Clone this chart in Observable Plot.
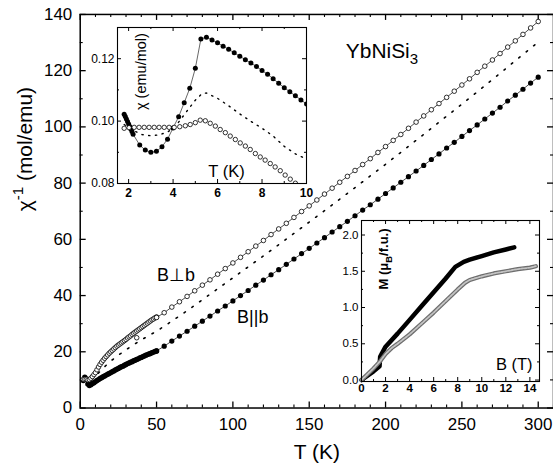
<!DOCTYPE html>
<html>
<head>
<meta charset="utf-8">
<script src="https://cdn.jsdelivr.net/npm/d3@7"></script>
<script src="https://cdn.jsdelivr.net/npm/@observablehq/plot@0.6"></script>
<style>
  html, body { margin: 0; padding: 0; background: #fff; }
  #wrap { position: relative; width: 553px; height: 474px; overflow: hidden; background: #fff; }
  #wrap svg { position: absolute; overflow: visible; }
</style>
</head>
<body>
<div id="wrap"></div>
<script>
// ---------------- data: main panel (inverse susceptibility) ----------------
const tLow = [2,3,4,5,6,7,8,9,10,11,12,13,14,15,16,17,18,19,20,21,22,23,24,25,26,27,28,29,30,31,32,33,34,35,36,37,38,39,40,41,42,43,44,45,46,47,48,49,50];
const invPerpLow = [10.2,10.2,10.2,10.0,10.1,10.6,11.2,11.9,12.6,13.6,14.6,15.5,16.3,17.0,17.7,18.3,18.9,19.5,20.0,20.5,21.0,21.5,22.0,22.4,22.8,23.2,23.6,24.0,24.4,24.9,25.3,25.7,26.2,26.6,27.0,27.4,27.8,28.2,28.6,29.0,29.4,29.8,30.2,30.6,31.0,31.4,31.7,32.1,32.4];
const invParLow = [9.8,11.0,10.3,8.5,8.0,8.3,8.7,9.0,9.4,9.8,10.1,10.5,10.8,11.1,11.4,11.7,12.0,12.3,12.6,12.9,13.2,13.5,13.8,14.1,14.4,14.7,14.9,15.2,15.5,15.8,16.0,16.3,16.5,16.8,17.0,17.3,17.5,17.8,18.0,18.3,18.5,18.8,19.0,19.2,19.4,19.7,19.9,20.1,20.3];
const tPerpExtra = [37];
const invPerpExtra = [25.0];

const tHigh = [50,55,60,65,70,75,80,85,90,95,100,105,110,115,120,125,130,135,140,145,150,155,160,165,170,175,180,185,190,195,200,205,210,215,220,225,230,235,240,245,250,255,260,265,270,275,280,285,290,295,300];
const invPerpHigh = [32.2,33.9,35.9,37.8,39.7,41.7,43.7,45.6,47.6,49.6,51.6,53.6,55.6,57.6,59.6,61.7,63.7,65.7,67.8,69.9,71.9,74.0,76.1,78.2,80.3,82.4,84.5,86.6,88.7,90.9,93.0,95.2,97.3,99.5,101.7,103.9,106.1,108.3,110.5,112.7,114.9,117.1,119.4,121.6,123.8,126.1,128.4,130.6,132.9,135.2,137.5];
const invParHigh = [20.3,22.0,23.8,25.6,27.3,29.1,30.9,32.7,34.5,36.3,38.1,40.0,41.8,43.7,45.5,47.4,49.2,51.1,53.0,54.9,56.8,58.7,60.6,62.6,64.5,66.4,68.4,70.4,72.3,74.3,76.3,78.3,80.3,82.3,84.3,86.3,88.4,90.4,92.5,94.5,96.6,98.7,100.7,102.8,104.9,107.0,109.2,111.3,113.4,115.6,117.7];

const tAvg = [2,4,6,8,10,15,20,25,30,35,40,45,50,60,70,80,90,100,120,140,160,180,200,220,240,260,280,300];
const invAvg = [10.1,10.2,9.4,10.3,11.3,14.2,16.7,18.8,20.7,22.5,24.2,25.8,27.3,30.9,34.6,38.5,42.4,46.3,54.1,62.1,70.2,78.4,86.7,95.2,103.8,112.4,121.3,130.2];

const mainXTicks = [0,50,100,150,200,250,300];
const mainXMinor = [10,20,30,40,60,70,80,90,110,120,130,140,160,170,180,190,210,220,230,240,260,270,280,290,310];
const mainYTicks = [0,20,40,60,80,100,120,140];
const mainYMinor = [10,30,50,70,90,110,130];

// ---------------- data: inset 1 (chi vs T, low T) ----------------
const tChiPar = [1.8,1.85,1.9,1.95,2.0,2.05,2.1,2.15,2.2,2.5,2.75,3.0,3.25,3.5,3.75,4.0,4.25,4.5,4.75,5.0,5.25,5.5,5.75,6.0,6.25,6.5,6.75,7.0,7.25,7.5,7.75,8.0,8.25,8.5,8.75,9.0,9.25,9.5,9.75,10.0];
const chiPar = [0.1022,0.1015,0.1007,0.0999,0.0991,0.0983,0.0975,0.0967,0.0958,0.0923,0.0907,0.0900,0.0903,0.0918,0.0942,0.0978,0.1014,0.1059,0.1105,0.1169,0.1263,0.1269,0.1260,0.1251,0.1240,0.1230,0.1219,0.1208,0.1197,0.1186,0.1175,0.1162,0.1150,0.1136,0.1121,0.1107,0.1094,0.1081,0.1068,0.1055];
const tChiPerp = [1.8,2.02,2.25,2.47,2.7,2.92,3.15,3.37,3.6,3.82,4.05,4.3,4.55,4.77,5.0,5.22,5.45,5.67,5.9,6.12,6.35,6.57,6.8,7.02,7.25,7.47,7.7,7.92,8.14,8.37,8.59,8.82,9.04,9.27,9.5];
const chiPerp = [0.0977,0.0979,0.0980,0.0980,0.0980,0.0980,0.0980,0.0980,0.0980,0.0980,0.0980,0.0982,0.0985,0.0989,0.0995,0.1003,0.1001,0.0993,0.0984,0.0973,0.0963,0.0952,0.0941,0.0930,0.0920,0.0909,0.0896,0.0885,0.0875,0.0864,0.0853,0.0841,0.0827,0.0814,0.0801];
const tChiAvg = [1.8,2.2,2.6,3.0,3.4,3.8,4.2,4.6,5.0,5.3,5.5,6.0,6.5,7.0,7.5,8.0,8.5,9.0,9.5,10.0];
const chiAvg = [0.0989,0.0970,0.0957,0.0953,0.0956,0.0967,0.0992,0.1030,0.1067,0.1088,0.1090,0.1073,0.1049,0.1023,0.0999,0.0977,0.0952,0.0919,0.0895,0.0878];
const in1XTicks = [2,4,6,8,10];
const in1XMinor = [3,5,7,9];
const in1YTicks = [0.08,0.10,0.12];
const in1YMinor = [0.09,0.11,0.13];

// ---------------- data: inset 2 (M vs B) ----------------
const bPar = [0,0.5,1,1.5,1.55,1.7,2,3,4,5,6,7,7.8,8.5,9,10,11,12,12.7];
const mPar = [0,0.06,0.12,0.19,0.32,0.37,0.46,0.64,0.83,1.02,1.21,1.40,1.56,1.63,1.66,1.71,1.76,1.80,1.83];
const bPerp = [0,0.5,1,1.5,2,2.5,3,4,5,6,7,8,8.6,9,10,11,12,13,14,14.5];
const mPerp = [0,0.08,0.16,0.25,0.36,0.44,0.50,0.63,0.78,0.93,1.09,1.25,1.34,1.38,1.43,1.47,1.50,1.53,1.55,1.57];
const in2XTicks = [0,2,4,6,8,10,12,14];
const in2XMinor = [1,3,5,7,9,11,13];
const in2YTicks = [0,0.5,1.0,1.5,2.0];
const in2YMinor = [0.25,0.75,1.25,1.75];

// ---------------- helpers ----------------
const FONT = "'Liberation Sans', Arial, Helvetica, sans-serif";
const rows = (xs, ys) => xs.map((x, i) => ({x, y: ys[i]}));

function frameTicks(xs, ys, len, fh, fw, sw) {
  return [
    Plot.tickX(xs, {x: d => d, insetTop: fh - len, stroke: "black", strokeWidth: sw}),
    Plot.tickX(xs, {x: d => d, insetBottom: fh - len, stroke: "black", strokeWidth: sw}),
    Plot.tickY(ys, {y: d => d, insetRight: fw - len, stroke: "black", strokeWidth: sw}),
    Plot.tickY(ys, {y: d => d, insetLeft: fw - len, stroke: "black", strokeWidth: sw})
  ];
}

function richText(svg, full, pieces) {
  svg.querySelectorAll("text").forEach(el => {
    if (el.textContent !== full) return;
    const target = el.querySelector("tspan") || el;
    target.textContent = "";
    pieces.forEach(([s, kind]) => {
      const ts = document.createElementNS("http://www.w3.org/2000/svg", "tspan");
      ts.textContent = s;
      if (kind === "sub") { ts.setAttribute("dy", "0.45em"); ts.setAttribute("font-size", "0.72em"); }
      if (kind === "sup") { ts.setAttribute("dy", "-0.6em"); ts.setAttribute("font-size", "0.72em"); }
      if (kind === "unsub") ts.setAttribute("dy", "-0.32em");
      if (kind === "unsup") ts.setAttribute("dy", "0.43em");
      target.appendChild(ts);
    });
  });
}

const wrap = document.getElementById("wrap");

// ---------------- main panel ----------------
const mW = 555, mH = 474, mL = 80, mR = 0, mT = 14, mB = 65;
const mFW = mW - mL - mR, mFH = mH - mT - mB;

const main = Plot.plot({
  width: mW, height: mH,
  marginLeft: mL, marginRight: mR, marginTop: mT, marginBottom: mB,
  x: {domain: [0, 310]},
  y: {domain: [0, 140]},
  style: {fontFamily: FONT, fontSize: "17px", background: "transparent", color: "black"},
  marks: [
    ...frameTicks(mainXTicks, mainYTicks, 6, mFH, mFW, 1.3),
    ...frameTicks(mainXMinor, mainYMinor, 3, mFH, mFW, 1.1),
    Plot.frame({stroke: "black", strokeWidth: 1.5}),
    Plot.axisX(mainXTicks, {tickSize: 0, tickPadding: 10, fontSize: 17, label: null}),
    Plot.axisY(mainYTicks, {tickSize: 0, tickPadding: 8, fontSize: 17, label: null}),
    Plot.line(rows(tAvg, invAvg), {x: "x", y: "y", stroke: "black", strokeWidth: 1.6, strokeDasharray: "1.6,8"}),
    Plot.line(rows(tHigh, invPerpHigh), {x: "x", y: "y", stroke: "black", strokeWidth: 0.7}),
    Plot.line(rows(tHigh, invParHigh), {x: "x", y: "y", stroke: "black", strokeWidth: 0.7}),
    Plot.dot(rows(tLow, invParLow), {x: "x", y: "y", r: 2.7, fill: "black", stroke: "none"}),
    Plot.dot(rows(tHigh, invParHigh), {x: "x", y: "y", r: 2.6, fill: "black", stroke: "none"}),
    Plot.dot(rows(tLow, invPerpLow), {x: "x", y: "y", r: 2.3, fill: "white", stroke: "black", strokeWidth: 0.8}),
    Plot.dot(rows(tPerpExtra, invPerpExtra), {x: "x", y: "y", r: 2.3, fill: "white", stroke: "black", strokeWidth: 0.8}),
    Plot.dot(rows(tHigh, invPerpHigh), {x: "x", y: "y", r: 2.3, fill: "white", stroke: "black", strokeWidth: 0.8}),
    Plot.text(["T (K)"], {frameAnchor: "bottom", dy: 51, fontSize: 21, fill: "black"}),
    Plot.text(["χ-1 (mol/emu)"], {frameAnchor: "left", rotate: -90, dx: -55, fontSize: 21, fill: "black"}),
    Plot.text(["YbNiSi3"], {x: 174, y: 127, textAnchor: "start", fontSize: 21, fill: "black"}),
    Plot.text(["B⊥b"], {x: 62.7, y: 47.4, fontSize: 18, fill: "black"}),
    Plot.text(["B||b"], {x: 113, y: 32.2, fontSize: 18, fill: "black"})
  ]
});
main.style.left = "0px"; main.style.top = "0px";
richText(main, "YbNiSi3", [["YbNiSi"], ["3", "sub"]]);
richText(main, "χ-1 (mol/emu)", [["χ"], ["-1", "sup"], [" (mol/emu)", "unsup"]]);
wrap.appendChild(main);

// ---------------- inset 1: chi vs T ----------------
const i1Left = 80, i1Top = 20, i1W = 234, i1H = 185;
const i1L = 37, i1R = 8, i1T = 7, i1B = 22;
const i1FW = i1W - i1L - i1R, i1FH = i1H - i1T - i1B;
const inset1 = Plot.plot({
  width: i1W, height: i1H,
  marginLeft: i1L, marginRight: i1R, marginTop: i1T, marginBottom: i1B,
  x: {domain: [1.5, 10]},
  y: {domain: [0.08, 0.13]},
  style: {fontFamily: FONT, fontSize: "12px", background: "transparent", color: "black"},
  marks: [
    Plot.frame({fill: "white", stroke: "none"}),
    ...frameTicks(in1XTicks, in1YTicks, 4, i1FH, i1FW, 1),
    ...frameTicks(in1XMinor, in1YMinor, 2, i1FH, i1FW, 1),
    Plot.axisX(in1XTicks, {tickSize: 0, tickPadding: 5, fontSize: 12, fontWeight: "bold", label: null, tickFormat: d => String(d)}),
    Plot.axisY(in1YTicks, {tickSize: 0, tickPadding: 3, fontSize: 12, label: null, tickFormat: d => d.toFixed(2)}),
    Plot.line(rows(tChiAvg, chiAvg), {x: "x", y: "y", stroke: "black", strokeWidth: 1.4, strokeDasharray: "1.3,5.5", clip: true}),
    Plot.line(rows(tChiPar, chiPar), {x: "x", y: "y", stroke: "black", strokeWidth: 0.6, clip: true}),
    Plot.dot(rows(tChiPar, chiPar), {x: "x", y: "y", r: 2.5, fill: "black", stroke: "none", clip: true}),
    Plot.dot(rows(tChiPerp, chiPerp), {x: "x", y: "y", r: 2.2, fill: "white", stroke: "black", strokeWidth: 0.8, clip: true}),
    Plot.frame({stroke: "black", strokeWidth: 1.1}),
    Plot.text(["χ (emu/mol)"], {x: 2.58, y: 0.1282, rotate: -90, textAnchor: "end", fontSize: 14.5, fill: "black"}),
    Plot.text(["T (K)"], {x: 6.4, y: 0.0838, fontSize: 16.5, fill: "black"})
  ]
});
inset1.style.left = i1Left + "px"; inset1.style.top = i1Top + "px";
wrap.appendChild(inset1);

// ---------------- inset 2: M vs B ----------------
const i2Left = 336, i2Top = 212, i2W = 211, i2H = 185;
const i2L = 25, i2R = 8, i2T = 8, i2B = 16;
const i2FW = i2W - i2L - i2R, i2FH = i2H - i2T - i2B;
const inset2 = Plot.plot({
  width: i2W, height: i2H,
  marginLeft: i2L, marginRight: i2R, marginTop: i2T, marginBottom: i2B,
  x: {domain: [0, 14.8]},
  y: {domain: [-0.02, 2.2]},
  style: {fontFamily: FONT, fontSize: "11px", background: "transparent", color: "black"},
  marks: [
    Plot.frame({fill: "white", stroke: "none"}),
    ...frameTicks(in2XTicks, in2YTicks, 4, i2FH, i2FW, 1),
    ...frameTicks(in2XMinor, in2YMinor, 2, i2FH, i2FW, 1),
    Plot.axisX(in2XTicks, {tickSize: 0, tickPadding: 2, fontSize: 11.5, fontWeight: "bold", label: null, tickFormat: d => String(d)}),
    Plot.axisY(in2YTicks, {tickSize: 0, tickPadding: 3, fontSize: 11.5, label: null, tickFormat: d => d.toFixed(1)}),
    Plot.line(rows(bPar, mPar), {x: "x", y: "y", stroke: "black", strokeWidth: 4.5, strokeLinecap: "round", strokeLinejoin: "round"}),
    Plot.line(rows(bPerp, mPerp), {x: "x", y: "y", stroke: "#6e6e6e", strokeWidth: 4.2, strokeLinecap: "round", strokeLinejoin: "round"}),
    Plot.line(rows(bPerp, mPerp), {x: "x", y: "y", stroke: "#c4c4c4", strokeWidth: 1.8, strokeDasharray: "2,1.4"}),
    Plot.frame({stroke: "black", strokeWidth: 1.1}),
    Plot.text(["M (μB/f.u.)"], {x: 1.83, y: 2.09, rotate: -90, textAnchor: "end", fontSize: 13, fontWeight: "bold", fill: "black"}),
    Plot.text(["B (T)"], {x: 12.7, y: 0.21, fontSize: 16.5, fill: "black"})
  ]
});
inset2.style.left = i2Left + "px"; inset2.style.top = i2Top + "px";
richText(inset2, "M (μB/f.u.)", [["M (μ"], ["B", "sub"], ["/f.u.)", "unsub"]]);
wrap.appendChild(inset2);
</script>
</body>
</html>
